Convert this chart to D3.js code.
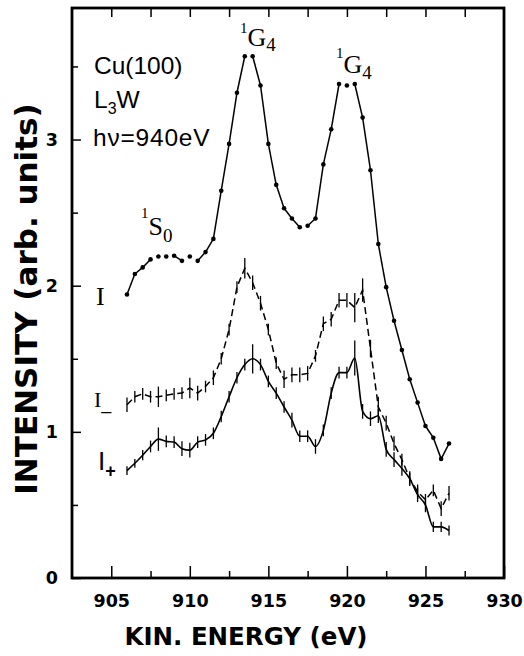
<!DOCTYPE html>
<html>
<head>
<meta charset="utf-8">
<script src="https://cdn.jsdelivr.net/npm/d3@7"></script>
<style>
  body { margin: 0; background: #fff; }
  .tick line { stroke: #000; stroke-width: 1.5; }
  .tick text { font-family: "DejaVu Sans", sans-serif; font-weight: bold; font-size: 17.5px; fill: #000; }
</style>
</head>
<body>
<div id="chart"></div>
<script>
// kinetic energy (eV), one point every 0.5 eV
var energy = [906, 906.5, 907, 907.5, 908, 908.5, 909, 909.5, 910, 910.5,
              911, 911.5, 912, 912.5, 913, 913.5, 914, 914.5, 915, 915.5,
              916, 916.5, 917, 917.5, 918, 918.5, 919, 919.5, 920, 920.5,
              921, 921.5, 922, 922.5, 923, 923.5, 924, 924.5, 925, 925.5,
              926, 926.5];

// I (total, dots)
var intensityI = [1.94, 2.08, 2.125, 2.18, 2.20, 2.20, 2.205, 2.17, 2.20, 2.17,
                  2.23, 2.32, 2.65, 2.97, 3.32, 3.57, 3.57, 3.37, 2.97, 2.69,
                  2.53, 2.46, 2.40, 2.41, 2.46, 2.83, 3.07, 3.38, 3.37, 3.38,
                  3.15, 2.79, 2.285, 1.99, 1.76, 1.56, 1.36, 1.20, 1.04, 0.96,
                  0.815, 0.92];

// I- (dashed) and its error bars (half length)
var intensityMinus = [1.185, 1.24, 1.26, 1.24, 1.24, 1.25, 1.26, 1.265, 1.30, 1.265,
                      1.31, 1.37, 1.50, 1.70, 1.99, 2.12, 2.02, 1.88, 1.70, 1.47,
                      1.36, 1.39, 1.39, 1.40, 1.52, 1.74, 1.77, 1.90, 1.90, 1.85,
                      1.97, 1.57, 1.17, 1.06, 0.92, 0.81, 0.68, 0.59, 0.535, 0.60,
                      0.475, 0.58];
var errMinus = [0.05, 0.04, 0.04, 0.04, 0.07, 0.04, 0.04, 0.04, 0.07, 0.05,
                0.04, 0.05, 0.04, 0.04, 0.04, 0.07, 0.05, 0.05, 0.04, 0.04,
                0.06, 0.05, 0.05, 0.05, 0.04, 0.05, 0.05, 0.05, 0.05, 0.10,
                0.08, 0.06, 0.07, 0.05, 0.05, 0.04, 0.04, 0.05, 0.04, 0.04,
                0.05, 0.05];

// I+ (solid) and its error bars
var intensityPlus = [0.735, 0.785, 0.84, 0.90, 0.95, 0.935, 0.93, 0.885, 0.875, 0.93,
                     0.945, 0.99, 1.105, 1.24, 1.37, 1.46, 1.50, 1.46, 1.345, 1.265,
                     1.17, 1.08, 0.97, 0.97, 0.90, 1.01, 1.265, 1.405, 1.405, 1.505,
                     1.14, 1.09, 1.11, 0.88, 0.81, 0.75, 0.68, 0.57, 0.50, 0.35,
                     0.35, 0.325];
var errPlus = [0.03, 0.03, 0.035, 0.04, 0.08, 0.04, 0.04, 0.05, 0.05, 0.04,
               0.04, 0.04, 0.04, 0.04, 0.04, 0.04, 0.10, 0.04, 0.04, 0.04,
               0.04, 0.05, 0.04, 0.04, 0.05, 0.04, 0.04, 0.04, 0.04, 0.12,
               0.05, 0.05, 0.05, 0.05, 0.05, 0.05, 0.05, 0.05, 0.05, 0.035,
               0.035, 0.035];

var xTicks = [905, 910, 915, 920, 925, 930];
var xMinorTicks = [907.5, 912.5, 917.5, 922.5, 927.5];
var xTopTicks = [905, 907.5, 910, 912.5, 915, 917.5, 920, 922.5, 925, 927.5];
var yTicks = [0, 1, 2, 3];
var yMinorTicks = [0.5, 1.5, 2.5, 3.5];

var margin = {top: 8, right: 20, bottom: 78, left: 72},
    width = 524 - margin.left - margin.right,
    height = 656 - margin.top - margin.bottom;

var svg = d3.select("#chart")
  .append("svg")
    .attr("width", width + margin.left + margin.right)
    .attr("height", height + margin.top + margin.bottom)
  .append("g")
    .attr("transform", "translate(" + margin.left + "," + margin.top + ")");

var x = d3.scaleLinear().domain([902.5, 930]).range([0, width]);
var y = d3.scaleLinear().domain([0, 3.9]).range([height, 0]);

// axes (ticks point inward)
svg.append("g")
  .attr("transform", "translate(0," + height + ")")
  .call(d3.axisBottom(x).tickValues(xTicks).tickSize(-12).tickPadding(17).tickFormat(d3.format("d")));
svg.append("g")
  .attr("transform", "translate(0," + height + ")")
  .call(d3.axisBottom(x).tickValues(xMinorTicks).tickSize(-7).tickFormat(""));
svg.append("g")
  .call(d3.axisTop(x).tickValues(xTopTicks).tickSize(-9).tickFormat(""));
svg.append("g")
  .call(d3.axisLeft(y).tickValues(yTicks).tickSize(-9).tickPadding(14).tickFormat(d3.format("d")));
svg.append("g")
  .call(d3.axisLeft(y).tickValues(yMinorTicks).tickSize(-6).tickFormat(""));
svg.selectAll(".domain").remove();

svg.append("rect")
  .attr("width", width)
  .attr("height", height)
  .attr("fill", "none")
  .attr("stroke", "#000")
  .attr("stroke-width", 2.8);

// I+ : solid curve with error bars
var linePlus = d3.line()
  .x(function(d, i) { return x(energy[i]); })
  .y(function(d) { return y(d); })
  .curve(d3.curveMonotoneX);
svg.append("path")
  .datum(intensityPlus)
  .attr("d", linePlus)
  .attr("fill", "none")
  .attr("stroke", "#000")
  .attr("stroke-width", 1.6);
svg.selectAll(".errPlus")
  .data(intensityPlus)
  .enter().append("line")
    .attr("class", "errPlus")
    .attr("x1", function(d, i) { return x(energy[i]); })
    .attr("x2", function(d, i) { return x(energy[i]); })
    .attr("y1", function(d, i) { return y(d - errPlus[i]); })
    .attr("y2", function(d, i) { return y(d + errPlus[i]); })
    .attr("stroke", "#000")
    .attr("stroke-width", 1.3);

// I- : dashed with error bars
var lineMinus = d3.line()
  .x(function(d, i) { return x(energy[i]); })
  .y(function(d) { return y(d); });
svg.append("path")
  .datum(intensityMinus)
  .attr("d", lineMinus)
  .attr("fill", "none")
  .attr("stroke", "#000")
  .attr("stroke-width", 1.5)
  .attr("stroke-dasharray", "7,4");
svg.selectAll(".errMinus")
  .data(intensityMinus)
  .enter().append("line")
    .attr("class", "errMinus")
    .attr("x1", function(d, i) { return x(energy[i]); })
    .attr("x2", function(d, i) { return x(energy[i]); })
    .attr("y1", function(d, i) { return y(d - errMinus[i]); })
    .attr("y2", function(d, i) { return y(d + errMinus[i]); })
    .attr("stroke", "#000")
    .attr("stroke-width", 1.3);

// I : dots joined by segments (flat segments were lost in the print)
var segs = [];
for (var i = 0; i < energy.length - 1; i++) {
  var dy = Math.abs(y(intensityI[i + 1]) - y(intensityI[i]));
  if (dy > 4.8) segs.push(i);
}
svg.selectAll(".segI")
  .data(segs)
  .enter().append("line")
    .attr("class", "segI")
    .attr("x1", function(i) { return x(energy[i]); })
    .attr("y1", function(i) { return y(intensityI[i]); })
    .attr("x2", function(i) { return x(energy[i + 1]); })
    .attr("y2", function(i) { return y(intensityI[i + 1]); })
    .attr("stroke", "#000")
    .attr("stroke-width", 1.5);
svg.selectAll(".dotI")
  .data(intensityI)
  .enter().append("circle")
    .attr("class", "dotI")
    .attr("cx", function(d, i) { return x(energy[i]); })
    .attr("cy", function(d) { return y(d); })
    .attr("r", 2.3)
    .attr("fill", "#000");

// annotations (page coordinates)
var page = d3.select("svg");
var serif = "'Liberation Serif', 'Times New Roman', serif";
var sans = "'Liberation Sans', Arial, sans-serif";

function term(xp, yp, sup, main, sub, upShift, downShift) {
  var t = page.append("text").attr("x", xp).attr("y", yp).attr("font-family", serif);
  t.append("tspan").attr("font-size", 15).attr("dy", -upShift).text(sup);
  t.append("tspan").attr("font-size", 26).attr("dy", upShift).text(main);
  t.append("tspan").attr("font-size", 19).attr("dy", downShift).text(sub);
}
term(240, 46, "1", "G", "4", 13, 5);
term(336, 73, "1", "G", "4", 15, 6);
term(141, 235, "1", "S", "0", 17, 7);

var info = page.append("g").attr("font-family", sans).attr("font-size", 24.5);
info.append("text").attr("x", 94).attr("y", 74).text("Cu(100)");
var l3w = info.append("text").attr("x", 94).attr("y", 108);
l3w.append("tspan").text("L");
l3w.append("tspan").attr("font-size", 16).attr("dy", 6).text("3");
l3w.append("tspan").attr("dy", -6).text("W");
info.append("text").attr("x", 93).attr("y", 146).attr("letter-spacing", 0.8).text("h\u03bd=940eV");

// curve labels
page.append("text").attr("x", 96).attr("y", 305)
  .attr("font-family", serif).attr("font-size", 26).text("I");
var lm = page.append("text").attr("x", 94).attr("y", 407).attr("font-family", serif);
lm.append("tspan").attr("font-size", 22).text("I");
lm.append("tspan").attr("font-size", 20).attr("dy", 3).text("_");
var lp = page.append("text").attr("x", 98).attr("y", 470).attr("font-family", sans);
lp.append("tspan").attr("font-size", 26).text("I");
lp.append("tspan").attr("font-size", 18).attr("font-weight", "bold").attr("dy", 7).text("+");

// axis titles
page.append("text")
  .attr("x", margin.left + width / 2 - 42)
  .attr("y", 645)
  .attr("text-anchor", "middle")
  .attr("font-family", "'DejaVu Sans', sans-serif")
  .attr("font-weight", "bold")
  .attr("font-size", 24.5)
  .text("KIN. ENERGY (eV)");
page.append("text")
  .attr("transform", "translate(37,299) rotate(-90)")
  .attr("text-anchor", "middle")
  .attr("font-family", "'DejaVu Sans', sans-serif")
  .attr("font-weight", "bold")
  .attr("font-size", 31)
  .text("INTENSITY (arb. units)");
</script>
</body>
</html>
